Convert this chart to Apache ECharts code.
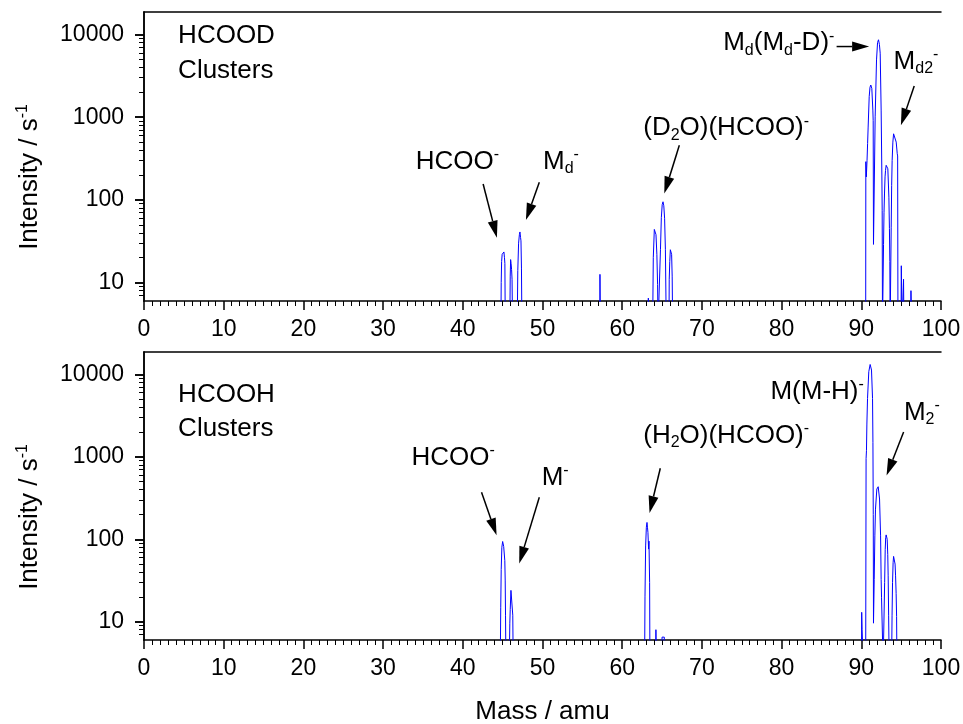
<!DOCTYPE html>
<html>
<head>
<meta charset="utf-8">
<script src="https://cdn.jsdelivr.net/npm/echarts@6/dist/echarts.min.js"></script>
<style>
  html, body { margin: 0; background: #fff; }
  #chart { width: 963px; height: 724px; }
</style>
</head>
<body>
<div id="chart"></div>
<script>
// mass spectra, [mass / amu, intensity / s^-1]; points at 3 sit below the axis floor
const hcoodSpectrum = [
  [44.78, 3], [44.82, 10], [44.87, 18], [44.94, 22], [45.05, 21], [45.16, 23.5], [45.23, 20], [45.28, 17], [45.33, 3],
  [45.9, 3], [45.95, 12], [46.0, 19], [46.06, 17], [46.12, 14.5], [46.18, 11], [46.24, 3],
  [46.83, 3], [46.9, 14], [47.0, 30], [47.1, 38], [47.17, 41], [47.25, 35], [47.3, 32], [47.36, 15], [47.42, 3],
  [57.2, 3], [57.21, 12.6], [57.25, 12.6], [57.26, 3],
  [63.25, 3], [63.28, 6.5], [63.32, 6.5], [63.35, 3],
  [63.82, 3], [63.9, 20], [64.03, 44], [64.12, 42], [64.24, 38], [64.35, 22], [64.44, 9.5], [64.5, 3],
  [64.7, 3], [64.8, 25], [64.91, 61], [65.02, 88], [65.12, 95], [65.22, 85], [65.32, 60], [65.42, 25], [65.53, 3],
  [65.87, 3], [65.9, 11], [65.97, 18], [66.04, 25], [66.12, 24], [66.2, 22], [66.27, 12], [66.33, 3],
  [90.55, 3], [90.57, 290], [90.61, 290], [90.63, 190], [90.72, 300], [90.79, 480], [90.86, 760], [90.99, 1770],
  [91.09, 2300], [91.19, 2450], [91.32, 2230], [91.45, 1220], [91.49, 910], [91.53, 29], [91.6, 29], [91.74, 1010],
  [91.91, 4930], [92.04, 8000], [92.16, 8630], [92.27, 7600], [92.37, 5940], [92.49, 1220], [92.58, 200], [92.62, 74], [92.66, 3],
  [92.75, 3], [92.79, 29], [92.85, 70], [92.91, 118], [92.98, 190], [93.04, 227], [93.12, 262], [93.21, 274],
  [93.33, 238], [93.46, 108], [93.53, 45], [93.58, 18], [93.62, 3],
  [93.7, 3], [93.75, 46], [93.81, 150], [93.87, 300], [93.96, 500], [94.05, 630], [94.13, 630], [94.21, 604],
  [94.38, 500], [94.51, 362], [94.56, 340], [94.6, 3],
  [94.98, 3], [95.02, 16], [95.08, 16], [95.12, 3],
  [95.25, 3], [95.3, 11], [95.35, 3],
  [96.18, 3], [96.23, 8], [96.3, 8], [96.34, 3]
];

const hcoohSpectrum = [
  [44.7, 3], [44.76, 15], [44.82, 43], [44.9, 80], [45.0, 94], [45.07, 93], [45.13, 82], [45.2, 79], [45.27, 55], [45.32, 32], [45.36, 12], [45.41, 3],
  [45.83, 3], [45.9, 9.6], [45.95, 14], [46.04, 24], [46.12, 24.5], [46.2, 23], [46.27, 12], [46.33, 3],
  [62.81, 3], [62.86, 20], [62.94, 83], [63.03, 140], [63.11, 160], [63.17, 140], [63.23, 121], [63.31, 76], [63.36, 95], [63.4, 95], [63.44, 30], [63.48, 3],
  [64.2, 3], [64.23, 8], [64.27, 8], [64.3, 3],
  [64.97, 3], [65.0, 6.5], [65.28, 6.5], [65.3, 3],
  [90.02, 3], [90.05, 13], [90.08, 13], [90.1, 8], [90.2, 8], [90.25, 3],
  [90.55, 3], [90.6, 950], [90.65, 1200], [90.7, 2500], [90.78, 5100], [90.94, 10800], [91.11, 13200], [91.28, 11300],
  [91.41, 5100], [91.46, 1500], [91.5, 200], [91.53, 9.6], [91.61, 9.6], [91.62, 32.5], [91.7, 110], [91.78, 232],
  [91.95, 407], [92.12, 434], [92.29, 308], [92.42, 110], [92.49, 32.5], [92.54, 19.5], [92.66, 19.5], [92.74, 3],
  [92.87, 3], [92.93, 30], [93.0, 75], [93.06, 105], [93.12, 113], [93.19, 110], [93.25, 100], [93.32, 65], [93.37, 36], [93.43, 12], [93.5, 3],
  [93.8, 3], [93.86, 12], [93.92, 30], [93.99, 52], [94.05, 62], [94.11, 63], [94.17, 60], [94.24, 50], [94.3, 36], [94.37, 22], [94.43, 11.6], [94.47, 3]
];

const intensityTicks = [10, 100, 1000, 10000];

// annotations in data coordinates: [panel, mass, intensity, rich text]
const labels = [
  [0, 4.28, 9640, '{n|HCOOD}'],
  [0, 4.28, 3620, '{n|Clusters}'],
  [0, 34.09, 292, '{n|HCOO}{p|-}'],
  [0, 50.06, 291, '{n|M}{b|d}{p|-}'],
  [0, 62.64, 735, '{n|(D}{b|2}{n|O)(HCOO)}{p|-}'],
  [0, 72.67, 7820, '{n|M}{b|d}{n|(M}{b|d}{n|-D)}{p|-}'],
  [0, 94.05, 4660, '{n|M}{b|d2}{p|-}'],
  [1, 4.28, 5700, '{n|HCOOH}'],
  [1, 4.28, 2195, '{n|Clusters}'],
  [1, 33.55, 973, '{n|HCOO}{p|-}'],
  [1, 49.9, 555, '{n|M}{p|-}'],
  [1, 62.64, 1800, '{n|(H}{b|2}{n|O)(HCOO)}{p|-}'],
  [1, 78.6, 6200, '{n|M(M-H)}{p|-}'],
  [1, 95.35, 3440, '{n|M}{b|2}{p|-}']
];

// arrows: [panel, [tail mass, tail intensity], [tip mass, tip intensity]]
const arrows = [
  [0, [42.55, 156], [44.28, 35]],
  [0, [49.6, 164], [47.92, 57]],
  [0, [67.17, 457], [65.28, 120]],
  [0, [86.9, 7150], [90.98, 7150]],
  [0, [96.64, 2380], [94.97, 800]],
  [1, [42.35, 371], [44.24, 112]],
  [1, [49.6, 323], [47.08, 51]],
  [1, [64.78, 728], [63.43, 208]],
  [1, [95.31, 2000], [93.17, 592]]
];

const FONT = 'Liberation Sans';
const rich = {
  n: { fontSize: 26, lineHeight: 30, fontFamily: FONT, fill: '#000' },
  p: { fontSize: 16, lineHeight: 15, verticalAlign: 'top', fontFamily: FONT, fill: '#000' },
  b: { fontSize: 16, lineHeight: 18, verticalAlign: 'bottom', fontFamily: FONT, fill: '#000' }
};

const black = { color: '#000', width: 1.5 };

function xAxis(gridIndex, position, showName) {
  const bottom = position === 'bottom';
  return {
    type: 'value', gridIndex: gridIndex, position: position,
    min: 0, max: 100, interval: 10,
    name: showName ? 'Mass / amu' : '',
    nameLocation: 'middle', nameGap: 59,
    nameTextStyle: { fontSize: 26, fontFamily: FONT, color: '#000' },
    axisLine: { show: true, onZero: false, lineStyle: black },
    axisTick: { show: bottom, length: 9, lineStyle: black },
    minorTick: { show: bottom, splitNumber: 10, length: 5, lineStyle: { color: '#000', width: 1 } },
    axisLabel: { show: bottom, margin: 17, fontSize: 23, fontFamily: FONT, color: '#000' },
    splitLine: { show: false }
  };
}

function yAxis(gridIndex, position) {
  const left = position === 'left';
  return {
    type: 'log', logBase: 10, gridIndex: gridIndex, position: position,
    min: 6, max: 18700,
    axisLine: { show: true, lineStyle: black },
    axisTick: { show: true, inside: !left, length: 9, customValues: intensityTicks, lineStyle: black },
    minorTick: { show: true, splitNumber: 9, length: 5, lineStyle: { color: '#000', width: 1 } },
    axisLabel: {
      show: left, customValues: intensityTicks, margin: 20, fontSize: 23, fontFamily: FONT, color: '#000',
      formatter: function (v) { return String(Math.round(v)); }
    },
    splitLine: { show: false }
  };
}

function spectrum(data, axisIndex) {
  return {
    type: 'line', data: data, xAxisIndex: axisIndex, yAxisIndex: axisIndex,
    showSymbol: false, clip: true, silent: true,
    lineStyle: { color: '#0000ff', width: 1 }
  };
}

const chart = echarts.init(document.getElementById('chart'));
chart.setOption({
  animation: false,
  backgroundColor: '#fff',
  grid: [
    { left: 144, right: 22, top: 12, height: 289, outerBoundsMode: 'none' },
    { left: 144, right: 22, top: 352, height: 288, outerBoundsMode: 'none' }
  ],
  xAxis: [xAxis(0, 'bottom', false), xAxis(0, 'top', false), xAxis(1, 'bottom', true), xAxis(1, 'top', false)],
  yAxis: [yAxis(0, 'left'), yAxis(0, 'right'), yAxis(1, 'left'), yAxis(1, 'right')],
  series: [spectrum(hcoodSpectrum, 0), spectrum(hcoohSpectrum, 2)]
});

function toPx(panel, pt) {
  return chart.convertToPixel({ seriesIndex: panel }, pt);
}

const graphics = [];
labels.forEach(function (l) {
  const p = toPx(l[0], [l[1], l[2]]);
  graphics.push({
    type: 'text', x: p[0], y: p[1], silent: true,
    style: { text: l[3], rich: rich, align: 'left', verticalAlign: 'middle', fontFamily: FONT, fontSize: 26, fill: '#000' }
  });
});
arrows.forEach(function (a) {
  const t = toPx(a[0], a[1]);
  const h = toPx(a[0], a[2]);
  const dx = h[0] - t[0], dy = h[1] - t[1];
  const len = Math.sqrt(dx * dx + dy * dy);
  const ux = dx / len, uy = dy / len;
  const bx = h[0] - ux * 17, by = h[1] - uy * 17;
  graphics.push({
    type: 'line', silent: true,
    shape: { x1: t[0], y1: t[1], x2: bx, y2: by },
    style: { stroke: '#000', lineWidth: 1.5 }
  });
  graphics.push({
    type: 'polygon', silent: true,
    shape: { points: [[h[0], h[1]], [bx - uy * 5, by + ux * 5], [bx + uy * 5, by - ux * 5]] },
    style: { fill: '#000' }
  });
});
[177, 517].forEach(function (cy) {
  graphics.push({
    type: 'text', x: 30, y: cy, rotation: Math.PI / 2, silent: true,
    style: { text: '{n|Intensity / s}{p|-1}', rich: rich, align: 'center', verticalAlign: 'middle', fontFamily: FONT, fontSize: 26, fill: '#000' }
  });
});
chart.setOption({ graphic: graphics });
</script>
</body>
</html>
